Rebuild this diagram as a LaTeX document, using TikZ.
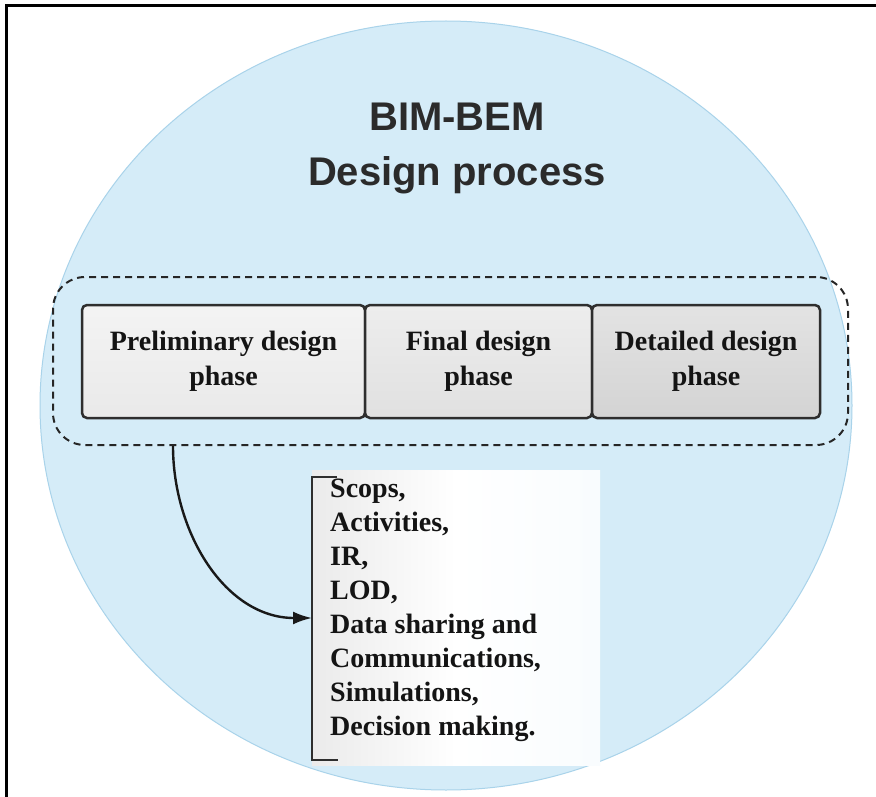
\documentclass[tikz,border=0pt]{standalone}
\usepackage{fontspec}
\setmainfont{Liberation Serif}
\newfontfamily\titlefont{Liberation Sans}
\usetikzlibrary{arrows.meta,shapes.geometric}
\definecolor{ellfill}{HTML}{D5ECF8}
\definecolor{elldraw}{HTML}{A9D3EA}
\definecolor{boxline}{HTML}{2E2E2E}
\definecolor{titlecol}{HTML}{2B2B2B}
\tikzset{
  phasebox/.style={draw=boxline, line width=2.5pt, rounded corners=5pt, minimum height=113pt,
    inner sep=0pt, align=center, font=\fontsize{28}{35}\selectfont\bfseries, text=black!92},
  dashbox/.style={draw=black!85, line width=2pt, dash pattern=on 7pt off 5pt, rounded corners=32pt,
    minimum width=795pt, minimum height=168pt, inner sep=0pt},
  listtext/.style={align=left, inner sep=0pt, font=\fontsize{28}{34}\selectfont\bfseries, text=black!92},
  bracketline/.style={draw=boxline, line width=2.6pt},
  arrowline/.style={draw=black!90, line width=2.4pt, -{Latex[length=19pt,width=13pt]}},
}
\begin{document}
\begin{tikzpicture}[x=1pt,y=-1pt]
\useasboundingbox (0,0) rectangle (876,797);
\fill[white] (0,0) rectangle (876,797);
% frame
\draw[black, line width=3pt] (6,800) -- (6,6) -- (880,6);
% ellipse
\node[ellipse, draw=elldraw, fill=ellfill, line width=1pt, minimum width=812pt, minimum height=769pt, inner sep=0pt] (ell) at (446,405.5) {};
% title
\node[font=\titlefont\fontsize{40}{55}\selectfont\bfseries, text=titlecol, align=center] (title) at (457,148) {BIM-BEM\\Design process};
% dashed group
\node[dashbox] (grp) at (450.5,361) {};
% phases
\node[phasebox, minimum width=283pt, top color=gray!9, bottom color=gray!17] (p1) at (223.5,361.5) {Preliminary design\\phase};
\node[phasebox, minimum width=227pt, top color=gray!14, bottom color=gray!24] (p2) at (478.5,361.5) {Final design\\phase};
\node[phasebox, minimum width=228pt, top color=gray!22, bottom color=gray!34] (p3) at (706,361.5) {Detailed design\\phase};
% list box
\node[minimum width=288pt, minimum height=295pt, inner sep=0pt, left color=gray!16, right color=white!85!ellfill, middle color=white] (lbox) at (456,617.5) {};
\node[listtext, anchor=north west] (lst) at (330,479) {Scops,\\Activities,\\IR,\\LOD,\\Data sharing and\\Communications,\\Simulations,\\Decision making.};
% bracket
\coordinate (btop) at (312,477);
\coordinate (bbot) at (312,760);
\coordinate (bmid) at (312,618);
\draw[bracketline] (337,477) -- (btop) -- (bbot) -- (338,760);
% arrow
\coordinate (astart) at (grp.south -| 173,0);
\draw[arrowline] (astart) to[out=-90,in=180] (bmid);
\end{tikzpicture}
\end{document}
